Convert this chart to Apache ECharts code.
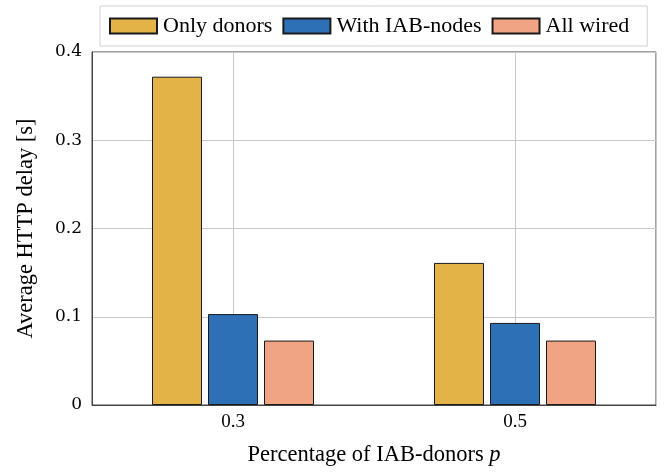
<!DOCTYPE html>
<html><head><meta charset="utf-8">
<script src="https://cdn.jsdelivr.net/npm/echarts@6/dist/echarts.min.js"></script>
<style>html,body{margin:0;padding:0;background:#fff}#c{width:672px;height:472px}</style>
</head><body><div id="c"></div>
<script>
const categories = ['0.3', '0.5'];
const onlyDonors = [0.372, 0.161];
const withIAB = [0.103, 0.093];
const allWired = [0.073, 0.073];
const yTicks = [0, 0.1, 0.2, 0.3, 0.4];
const seriesNames = ['Only donors', 'With IAB-nodes', 'All wired'];

const FONT = '"Liberation Serif", "DejaVu Serif", serif';
const MATH = '"DejaVu Serif", serif';
const chart = echarts.init(document.getElementById('c'));
// helper axis: half-category slots so split lines fall on category centres
const helperCats = [];
categories.forEach(c => { helperCats.push(c + 'a'); helperCats.push(c + 'b'); });

const barStyle = c => ({ color: c, borderColor: '#1a1a1a', borderWidth: 1 });
chart.setOption({
  animation: false,
  textStyle: { fontFamily: FONT },
  grid: { left: 92, right: 16, top: 52, bottom: 67, outerBoundsMode: 'none', containLabel: false,
          show: true, borderColor: '#444', borderWidth: 1, backgroundColor: '#fff' },
  legend: {
    top: 6, left: 100,
    data: seriesNames,
    itemWidth: 47, itemHeight: 15, itemGap: 10,
    padding: [9, 18, 9, 9],
    borderColor: '#d0d0d0', borderWidth: 1,
    textStyle: { fontFamily: FONT, fontSize: 22, color: '#000', padding: [0, 0, 0, 1] },
    icon: 'rect'
  },
  xAxis: [{
    type: 'category', data: categories,
    axisLine: { lineStyle: { color: '#444' } },
    axisTick: { show: false },
    axisLabel: { fontFamily: FONT, fontSize: 19, color: '#000', margin: 8 },
    splitLine: { show: false },
    name: 'Percentage of IAB-donors {i|p}',
    nameLocation: 'middle', nameGap: 39,
    nameTextStyle: { fontFamily: FONT, fontSize: 22.5, color: '#000', rich: { i: { fontFamily: FONT, fontSize: 22.5, fontStyle: 'italic', color: '#000' } } }
  }, {
    type: 'category', data: helperCats, position: 'bottom',
    axisLine: { show: false }, axisTick: { show: false }, axisLabel: { show: false },
    splitLine: { show: true, interval: (i) => i % 2 === 1, lineStyle: { color: '#c8c8c8', width: 1 } }
  }],
  yAxis: {
    type: 'value', min: yTicks[0], max: yTicks[yTicks.length - 1], interval: 0.1,
    axisLine: { show: true, lineStyle: { color: '#444' } },
    axisTick: { show: false },
    axisLabel: { fontFamily: MATH, fontSize: 17, color: '#000', margin: 10 },
    splitLine: { show: true, lineStyle: { color: '#c8c8c8', width: 1 } },
    name: 'Average HTTP delay [s]', nameLocation: 'middle', nameGap: 54,
    nameTextStyle: { fontFamily: FONT, fontSize: 22.5, color: '#000' }
  },
  series: [
    { name: seriesNames[0], type: 'bar', data: onlyDonors, barWidth: 50, barGap: '12%', itemStyle: barStyle('#E3B347') },
    { name: seriesNames[1], type: 'bar', data: withIAB, barWidth: 50, barGap: '12%', itemStyle: barStyle('#2D70B6') },
    { name: seriesNames[2], type: 'bar', data: allWired, barWidth: 50, barGap: '12%', itemStyle: barStyle('#F0A484') }
  ]
});
</script></body></html>
